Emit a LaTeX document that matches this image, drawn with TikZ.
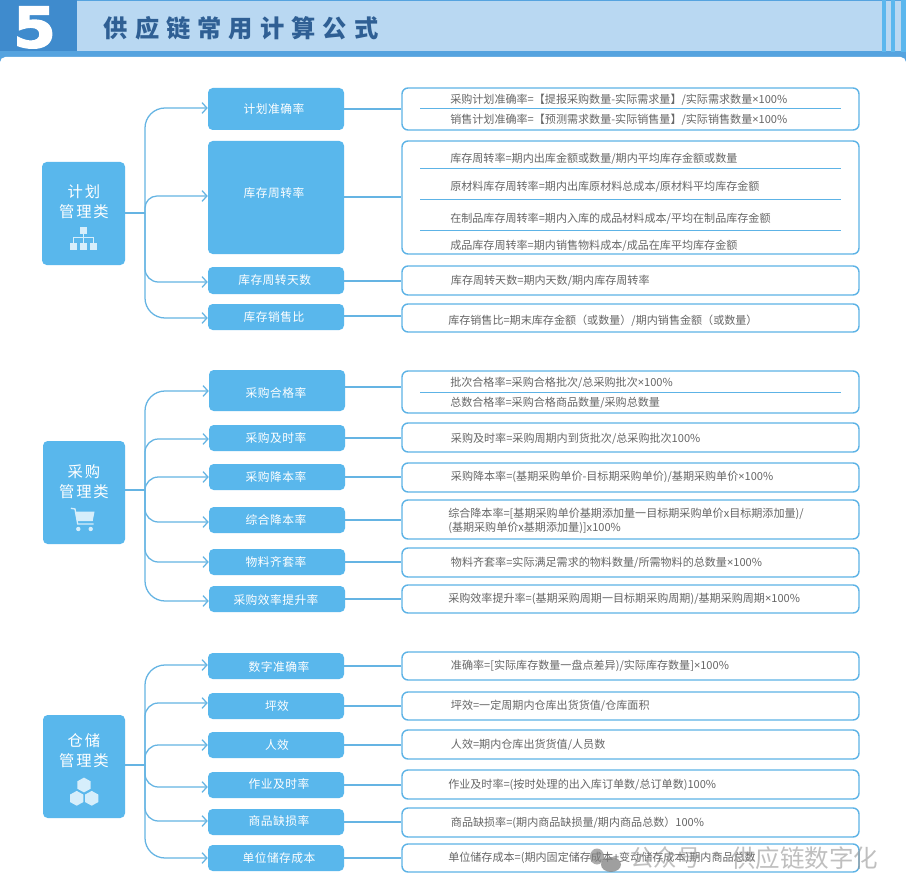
\documentclass[tikz,border=0pt]{standalone}
\usepackage{fontspec}
\setmainfont{Noto Sans CJK SC}
\newfontfamily\titlef[LetterSpace=29]{Noto Sans CJK SC}
\newfontfamily\catf[LetterSpace=12]{Noto Sans CJK SC}
\newfontfamily\midf[LetterSpace=4]{Noto Sans CJK SC}
\newfontfamily\latf{Noto Sans}
\newfontfamily\numf[FakeBold=2.5]{DejaVu Sans}
\newcommand\tm{{\latf ×}}
\usetikzlibrary{arrows.meta}
\definecolor{hdrlight}{HTML}{B9D8F2}
\definecolor{hdrdark}{HTML}{55A3DF}
\definecolor{hdrnum}{HTML}{3F8BCD}
\definecolor{stripe}{HTML}{5BB7EE}
\definecolor{boxblue}{HTML}{59B7EC}
\definecolor{linkblue}{HTML}{65B4E3}
\definecolor{rulest}{HTML}{5DB3E6}
\definecolor{titlec}{HTML}{2F5F94}
\definecolor{txt}{HTML}{666666}
\definecolor{iconc}{HTML}{D6EEFB}
\tikzset{
  catbox/.style={fill=boxblue,rounded corners=3.5pt,draw=none},
  midbox/.style={fill=boxblue,rounded corners=3.5pt,draw=none},
  fbox/.style={draw=rulest,line width=1.05pt,fill=white,rounded corners=4.5pt},
  conn/.style={draw=linkblue,line width=0.95pt},
  divider/.style={draw=rulest,line width=0.75pt},
  cattext/.style={text=white,align=center,font=\catf\fontsize{11.5pt}{15pt}\selectfont,inner sep=0,yshift=-0.7pt},
  midtext/.style={text=white,font=\midf\fontsize{8.8pt}{10pt}\selectfont,inner sep=0,yshift=-0.7pt},
  ftext/.style={text=txt,anchor=west,align=left,font=\fontsize{8.3pt}{10.5pt}\selectfont,inner sep=0,yshift=-0.6pt},
  icon/.style={fill=iconc,draw=none},
  iconline/.style={draw=iconc,line width=1pt},
}
\newcommand\bx[6]{%
  \pgfmathsetmacro\bw{(#5-#3)*0.75}\pgfmathsetmacro\bh{(#6-#4)*0.75}%
  \node[#2,minimum width=\bw pt,minimum height=\bh pt,inner sep=0pt] (#1) at ({(#3+#5)/2},{(#4+#6)/2}) {};}
\newcommand\branch[4]{\draw[conn,-{Straight Barb[length=3.6pt,width=8pt,line width=0.95pt]},rounded corners=#4pt] (#1) |- (#2.west |- 0,#3);}
\newcommand\linkto[3]{\draw[conn] (#1.east |- 0,#3) -- (#2.west |- 0,#3);}
\newcommand\hexag[2]{\fill[icon] (#1,#2-7.4) -- (#1+6.7,#2-3.7) -- (#1+6.7,#2+3.7) -- (#1,#2+7.4) -- (#1-6.7,#2+3.7) -- (#1-6.7,#2-3.7) -- cycle;}
\begin{document}
\begin{tikzpicture}[x=0.75pt,y=-0.75pt]
\useasboundingbox (0,0) rectangle (906,895);
% header
\fill[hdrdark] (0,0) rectangle (906,64);
\fill[hdrlight] (0,1) rectangle (906,51);
\fill[hdrnum] (0,0) rectangle (77,51);
\fill[stripe] (882,0) rectangle (885.5,52);
\fill[stripe] (891,0) rectangle (895,52);
\fill[stripe] (901,0) rectangle (906,52);
\fill[white,rounded corners=4pt] (0,57) rectangle (906,905);
\node[text=white,font=\numf\fontsize{42pt}{42pt}\selectfont\bfseries,xscale=1.1,inner sep=0,anchor=base] (num) at (34.5,47.5) {5};
\node[text=titlec,font=\titlef\fontsize{18.2pt}{20pt}\selectfont\bfseries,anchor=west,inner sep=0] (title) at (103.5,28) {供应链常用计算公式};

% ---------- group 1
\bx{g1}{catbox}{42}{162}{125}{265}
\bx{m11}{midbox}{208}{88}{344}{130}
\bx{m12}{midbox}{208}{141}{344}{254}
\bx{m13}{midbox}{208}{267}{344}{294}
\bx{m14}{midbox}{208}{304}{344}{330}
\bx{r11}{fbox}{402}{88}{859}{130}
\bx{r12}{fbox}{402}{141}{859}{254}
\bx{r13}{fbox}{402}{266}{859}{295}
\bx{r14}{fbox}{402}{304}{859}{332}
\coordinate (t1) at (145,213);
\draw[conn] (g1.east |- t1) -- (t1);
\branch{t1}{m11}{108}{15}
\branch{t1}{m12}{196}{9}
\branch{t1}{m13}{282}{10}
\branch{t1}{m14}{318}{15}
\linkto{m11}{r11}{109}
\linkto{m12}{r12}{197}
\linkto{m13}{r13}{281}
\linkto{m14}{r14}{316}
\draw[divider] (420,109) -- (841,109);
\draw[divider] (420,169) -- (841,169);
\draw[divider] (420,199.5) -- (841,199.5);
\draw[divider] (420,230) -- (841,230);
\node[cattext] (c1) at (84,201) {计划\\管理类};
\node[midtext] (l11) at (274,108) {计划准确率};
\node[midtext] (l12) at (274,192) {库存周转率};
\node[midtext] (l13) at (274.7,279.6) {库存周转天数};
\node[midtext] (l14) at (274,316) {库存销售比};
\node[ftext] (f11a) at (450,99) {采购计划准确率=【提报采购数量-实际需求量】/实际需求数量\tm 100\%};
\node[ftext] (f11b) at (450,119) {销售计划准确率=【预测需求数量-实际销售量】/实际销售数量\tm 100\%};
\node[ftext] (f12a) at (450,158) {库存周转率=期内出库金额或数量/期内平均库存金额或数量};
\node[ftext] (f12b) at (450,186) {原材料库存周转率=期内出库原材料总成本/原材料平均库存金额};
\node[ftext] (f12c) at (450,218) {在制品库存周转率=期内入库的成品材料成本/平均在制品库存金额};
\node[ftext] (f12d) at (450,245) {成品库存周转率=期内销售物料成本/成品在库平均库存金额};
\node[ftext] (f13) at (450.7,280) {库存周转天数=期内天数/期内库存周转率};
\node[ftext] (f14) at (448,319.5) {库存销售比=期末库存金额（或数量）/期内销售金额（或数量）};
% org icon
\fill[icon] (80,226.7) rectangle (87.3,234);
\fill[icon] (70,242.7) rectangle (77.3,250);
\fill[icon] (80,242.7) rectangle (87.3,250);
\fill[icon] (90,242.7) rectangle (97.3,250);
\draw[iconline] (83.6,234) -- (83.6,243);
\draw[iconline] (73.6,243) -- (73.6,237.5) -- (93.6,237.5) -- (93.6,243);

% ---------- group 2
\bx{g2}{catbox}{43}{441}{125}{544}
\bx{m21}{midbox}{209}{370}{345}{411}
\bx{m22}{midbox}{209}{425}{345}{451}
\bx{m23}{midbox}{209}{464}{345}{490}
\bx{m24}{midbox}{209}{507}{345}{533}
\bx{m25}{midbox}{209}{549}{345}{575}
\bx{m26}{midbox}{209}{586}{345}{612}
\bx{r21}{fbox}{402}{371}{859}{413}
\bx{r22}{fbox}{402}{423}{859}{452}
\bx{r23}{fbox}{402}{463}{859}{492}
\bx{r24}{fbox}{402}{500}{859}{539}
\bx{r25}{fbox}{402}{548}{859}{577}
\bx{r26}{fbox}{402}{585}{859}{613}
\coordinate (t2) at (145,490);
\draw[conn] (g2.east |- t2) -- (t2);
\branch{t2}{m21}{391}{15}
\branch{t2}{m22}{439}{10}
\branch{t2}{m23}{477}{10}
\branch{t2}{m24}{522}{10}
\branch{t2}{m25}{562}{10}
\branch{t2}{m26}{601}{15}
\linkto{m21}{r21}{387}
\linkto{m22}{r22}{438}
\linkto{m23}{r23}{477}
\linkto{m24}{r24}{520}
\linkto{m25}{r25}{562}
\linkto{m26}{r26}{599}
\draw[divider] (420,392.5) -- (841,392.5);
\node[cattext] (c2) at (84,481) {采购\\管理类};
\node[midtext] (l21) at (276,392) {采购合格率};
\node[midtext] (l22) at (276,437) {采购及时率};
\node[midtext] (l23) at (276,476) {采购降本率};
\node[midtext] (l24) at (276,519) {综合降本率};
\node[midtext] (l25) at (276,561) {物料齐套率};
\node[midtext] (l26) at (276,599) {采购效率提升率};
\node[ftext] (f21a) at (450,382) {批次合格率=采购合格批次/总采购批次\tm 100\%};
\node[ftext] (f21b) at (450,402) {总数合格率=采购合格商品数量/采购总数量};
\node[ftext] (f22) at (450.7,437.5) {采购及时率=采购周期内到货批次/总采购批次100\%};
\node[ftext] (f23) at (450.7,476.5) {采购降本率=(基期采购单价-目标期采购单价)/基期采购单价\tm 100\%};
\node[ftext] (f24) at (448,520) {综合降本率=[基期采购单价基期添加量一目标期采购单价x目标期添加量)/\\(基期采购单价x基期添加量)]x100\%};
\node[ftext] (f25) at (450.7,561.5) {物料齐套率=实际满足需求的物料数量/所需物料的总数量\tm 100\%};
\node[ftext] (f26) at (448,598.5) {采购效率提升率=(基期采购周期一目标期采购周期)/基期采购周期\tm 100\%};
% cart icon
\fill[icon] (75,511.7) -- (94.5,511.7) -- (92.7,521) -- (77.3,521) -- cycle;
\draw[iconline,line cap=round] (71.3,508.3) -- (75,509) -- (77.7,524) -- (93.3,524);
\fill[icon] (78.3,529) circle (2.2);
\fill[icon] (90.7,529) circle (2.2);

% ---------- group 3
\bx{g3}{catbox}{43}{715}{125}{818}
\bx{m31}{midbox}{208}{653}{344}{679}
\bx{m32}{midbox}{208}{693}{344}{719}
\bx{m33}{midbox}{208}{732}{344}{758}
\bx{m34}{midbox}{208}{772}{344}{798}
\bx{m35}{midbox}{208}{809}{344}{835}
\bx{m36}{midbox}{208}{845}{344}{871}
\bx{r31}{fbox}{402}{652}{859}{680}
\bx{r32}{fbox}{402}{692}{859}{720}
\bx{r33}{fbox}{402}{730}{859}{759}
\bx{r34}{fbox}{402}{770}{859}{799}
\bx{r35}{fbox}{402}{808}{859}{837}
\bx{r36}{fbox}{402}{844}{859}{872}
\coordinate (t3) at (145,765);
\draw[conn] (g3.east |- t3) -- (t3);
\branch{t3}{m31}{665}{15}
\branch{t3}{m32}{703}{10}
\branch{t3}{m33}{745}{10}
\branch{t3}{m34}{787}{10}
\branch{t3}{m35}{821}{10}
\branch{t3}{m36}{858}{15}
\linkto{m31}{r31}{666}
\linkto{m32}{r32}{706}
\linkto{m33}{r33}{745}
\linkto{m34}{r34}{785}
\linkto{m35}{r35}{822}
\linkto{m36}{r36}{858}
\node[cattext] (c3) at (84,750) {仓储\\管理类};
\node[midtext] (l31) at (279,666) {数字准确率};
\node[midtext] (l32) at (277,705) {坪效};
\node[midtext] (l33) at (277,744) {人效};
\node[midtext] (l34) at (279,783) {作业及时率};
\node[midtext] (l35) at (279,820) {商品缺损率};
\node[midtext] (l36) at (279,857) {单位储存成本};
\node[ftext] (f31) at (450.7,665.5) {准确率=[实际库存数量一盘点差异)/实际库存数量]\tm 100\%};
\node[ftext] (f32) at (450.7,705) {坪效=一定周期内仓库出货货值/仓库面积};
\node[ftext] (f33) at (450.7,744) {人效=期内仓库出货货值/人员数};
\node[ftext] (f34) at (448,784) {作业及时率=(按时处理的出入库订单数/总订单数)100\%};
\node[ftext] (f35) at (450.7,822) {商品缺损率=(期内商品缺损量/期内商品总数）100\%};
\node[ftext] (f36) at (448,857.5) {单位储存成本=(期内固定储存成本+变动储存成本)期内商品总数};
% hex icon
\hexag{84}{785}
\hexag{76.7}{798.3}
\hexag{91.7}{798.3}

% watermark
\fill[black!50,opacity=.65] (597,856.5) ellipse (7 and 8);
\fill[black!50,opacity=.75] (611,864.5) ellipse (10 and 7.5);
\node[text=black!45,text opacity=.55,font=\fontsize{17.6pt}{20pt}\selectfont,inner sep=0,anchor=west] (wm1) at (630,858) {公众号};
\node[text=black!45,text opacity=.55,font=\fontsize{17.6pt}{20pt}\selectfont,inner sep=0] (wmdot) at (716,858) {·};
\node[text=black!45,text opacity=.55,font=\fontsize{18.4pt}{20pt}\selectfont,inner sep=0,anchor=west] (wm2) at (731,858) {供应链数字化};
\end{tikzpicture}
\end{document}
